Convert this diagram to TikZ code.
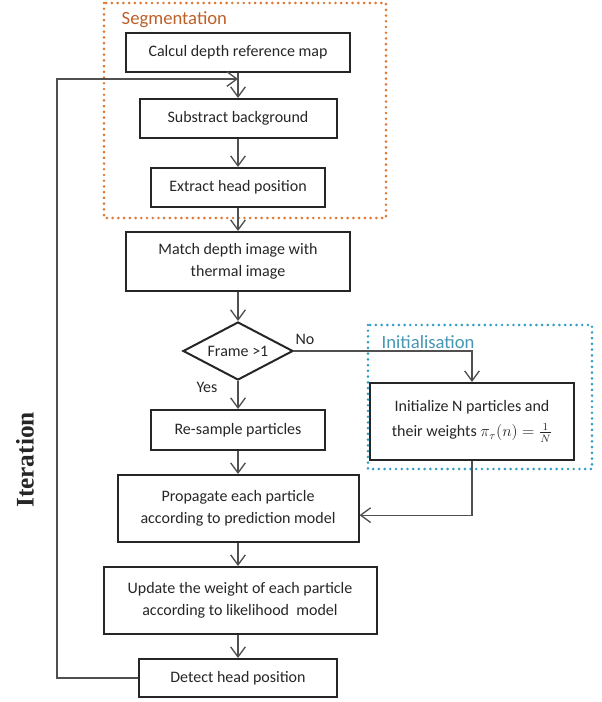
\documentclass[tikz,border=0pt]{standalone}
\usepackage{fontspec}
\setmainfont{Carlito}
\newfontfamily\iterfont{Liberation Serif}
\usetikzlibrary{shapes.geometric,arrows.meta}
\definecolor{segorange}{RGB}{222,120,52}
\definecolor{segtext}{RGB}{190,95,40}
\definecolor{initblue}{RGB}{52,160,200}
\definecolor{inittext}{RGB}{70,150,180}
\definecolor{linegray}{RGB}{80,80,80}

\begin{document}
\begin{tikzpicture}[x=0.75pt,y=-0.75pt]
        \tikzstyle{every node}=[font=\fontsize{12}{16.5}\selectfont, text=black!85]
        \tikzstyle{box}=[rectangle, draw=black!85, line width=1.5pt, align=center, inner sep=2pt]
        \tikzstyle{flow}=[draw=linegray, line width=1pt, -{Straight Barb[length=7.5pt,width=11pt]}]
        \tikzstyle{group}=[line width=2.2pt, dash pattern=on 0pt off 4.3pt, line cap=round]
        \tikzstyle{grouplabel}=[anchor=west, font=\fontsize{14}{16}\selectfont]

        \useasboundingbox (0,0) rectangle (602,702);

        \draw[group, segorange] (104,3) rectangle (386,218);
        \draw[group, initblue]  (368,325) rectangle (592,469);
        \node[grouplabel, text=segtext]  (seglabel)  at (117,20)  {Segmentation};
        \node[grouplabel, text=inittext] (initlabel) at (377,342) {Initialisation};

        \node[box, minimum width=168pt,    minimum height=29.25pt] (calc)      at (238,52.5)  {Calcul depth reference map};
        \node[box, minimum width=147.75pt, minimum height=29.25pt] (subtract)  at (238,118.5) {Substract background};
        \node[box, minimum width=130.5pt,  minimum height=29.25pt] (extract)   at (238,187.5) {Extract head position};
        \node[box, minimum width=168pt,    minimum height=44.25pt] (match)     at (238,261.5) {Match depth image with\\thermal image};
        \node[diamond, draw=black!85, line width=1.5pt, aspect=1.9, inner sep=0pt,
              minimum width=82.5pt, minimum height=43.5pt]          (frame)     at (238,351)   {Frame >1};
        \node[box, minimum width=153pt,    minimum height=57.75pt] (init)      at (472,421.5) {Initialize N particles and\\[2pt]their weights $\pi_{\tau}(n)=\frac{1}{N}$};
        \node[box, minimum width=130.5pt,  minimum height=30pt]    (resample)  at (238,430)   {Re-sample particles};
        \node[box, minimum width=180.75pt, minimum height=50.25pt] (propagate) at (238,508.5) {Propagate each particle\\according to prediction model};
        \node[box, minimum width=204.75pt, minimum height=50.25pt] (update)    at (240,600.5) {Update the weight of each particle\\according to likelihood\ \ model};
        \node[box, minimum width=148.5pt,  minimum height=28.5pt]  (detect)    at (238,678)   {Detect head position};

        \node (no)  at (305,339) {No};
        \node (yes) at (207,387) {Yes};
        \node[rotate=90, font=\iterfont\bfseries\fontsize{19}{21}\selectfont] (iterlabel) at (25,460) {Iteration};

        \coordinate (merge) at (238,79);
        \coordinate (loopcorner) at (57,79);

        \draw[flow] (calc) -- (subtract);
        \draw[flow] (subtract) -- (extract);
        \draw[flow] (extract) -- (match);
        \draw[flow] (match) -- (frame);
        \draw[flow] (frame) -- (resample);
        \draw[flow] (frame.east) -| (init.north);
        \draw[flow] (resample) -- (propagate);
        \draw[flow] (init.south) |- ([yshift=-5pt]propagate.east);
        \draw[flow] (propagate) -- (update.north -| propagate.south);
        \draw[flow] (update.south -| detect.north) -- (detect);
        \draw[flow] (detect.west) -| (loopcorner) -- (merge);
    \end{tikzpicture}
\end{document}
